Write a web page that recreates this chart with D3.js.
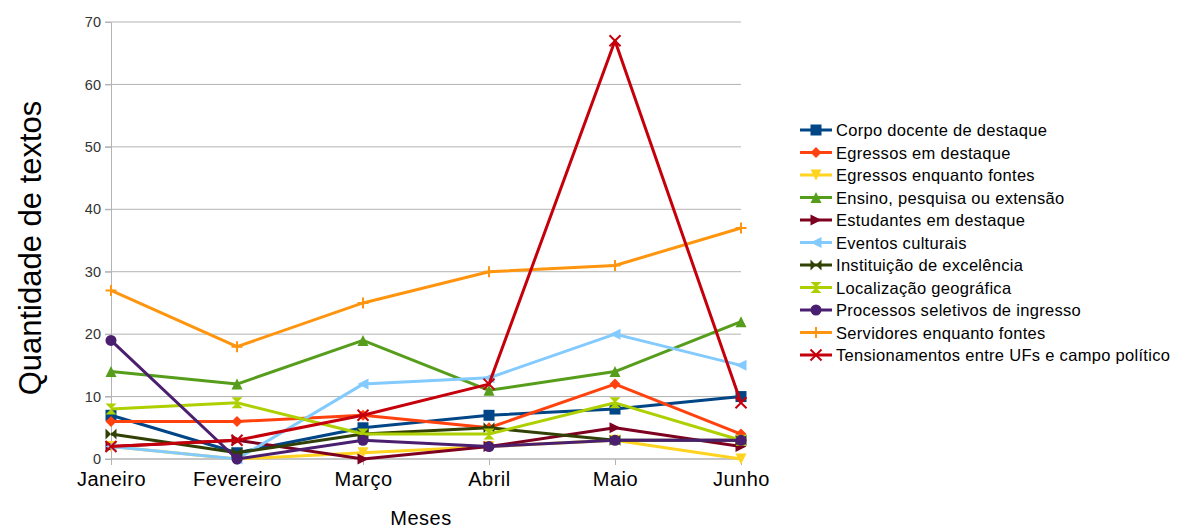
<!DOCTYPE html>
<html>
<head>
<meta charset="utf-8">
<script src="https://cdn.jsdelivr.net/npm/d3@7"></script>
<style>
  body { margin: 0; background: #fff; }
  text { font-family: "Liberation Sans", Arial, sans-serif; }
</style>
</head>
<body>
<div id="chart"></div>
<script>
// months on the x axis
const meses = ['Janeiro', 'Fevereiro', 'Março', 'Abril', 'Maio', 'Junho'];
const yTicks = [0, 10, 20, 30, 40, 50, 60, 70];

const seriesNames = [
    'Corpo docente de destaque',
    'Egressos em destaque',
    'Egressos enquanto fontes',
    'Ensino, pesquisa ou extensão',
    'Estudantes em destaque',
    'Eventos culturais',
    'Instituição de excelência',
    'Localização geográfica',
    'Processos seletivos de ingresso',
    'Servidores enquanto fontes',
    'Tensionamentos entre UFs e campo político'
];

const corpoDocente   = [7, 1, 5, 7, 8, 10];
const egressosDest   = [6, 6, 7, 5, 12, 4];
const egressosFontes = [2, 0, 1, 2, 3, 0];
const ensino         = [14, 12, 19, 11, 14, 22];
const estudantes     = [2, 3, 0, 2, 5, 2];
const eventos        = [2, 0, 12, 13, 20, 15];
const instituicao    = [4, 1, 4, 5, 3, 3];
const localizacao    = [8, 9, 4, 4, 9, 3];
const processos      = [19, 0, 3, 2, 3, 3];
const servidores     = [27, 18, 25, 30, 31, 37];
const tensionamentos = [2, 3, 7, 12, 67, 9];

const allValues = [corpoDocente, egressosDest, egressosFontes, ensino, estudantes,
    eventos, instituicao, localizacao, processos, servidores, tensionamentos];

const colors = ['#004586', '#ff420e', '#ffd320', '#579d1c', '#7e0021', '#83caff',
    '#314004', '#aecf00', '#4b1f6f', '#ff950e', '#c5000b'];
const symbols = ['square', 'diamond', 'down', 'up', 'right', 'left',
    'hbowtie', 'vbowtie', 'circle', 'plus', 'cross'];

const WIDTH = 1178, HEIGHT = 530;

let svg = d3.select('#chart').append('svg')
    .attr('width', WIDTH)
    .attr('height', HEIGHT);

let x = d3.scalePoint()
    .domain(meses)
    .range([111, 741]);

let y = d3.scaleLinear()
    .domain([0, 70])
    .range([459, 22]);

// gridlines
svg.append('g')
    .selectAll('line')
    .data(yTicks)
    .join('line')
    .attr('x1', 105)
    .attr('x2', 741)
    .attr('y1', d => y(d))
    .attr('y2', d => y(d))
    .attr('stroke', '#b3b3b3')
    .attr('stroke-width', 1);

// y axis
let yAxis = svg.append('g')
    .attr('transform', 'translate(111,0)')
    .call(d3.axisLeft(y).tickValues(yTicks).tickSize(6).tickPadding(4));
yAxis.select('.domain').attr('stroke', '#b3b3b3');
yAxis.selectAll('.tick line').attr('stroke', '#b3b3b3');
yAxis.selectAll('.tick text')
    .attr('fill', '#333')
    .style('font-size', '14.5px')
    .style('font-family', '"Liberation Sans", Arial, sans-serif');

// x axis
let xAxis = svg.append('g')
    .attr('transform', 'translate(0,459)')
    .call(d3.axisBottom(x).tickSize(6).tickPadding(7));
xAxis.select('.domain').attr('stroke', '#b3b3b3').attr('d', 'M111,0H741');
xAxis.selectAll('.tick line').attr('stroke', '#b3b3b3');
xAxis.selectAll('.tick text')
    .attr('fill', '#000')
    .style('font-size', '20px')
    .style('letter-spacing', '0.5px')
    .style('font-family', '"Liberation Sans", Arial, sans-serif');

// axis titles
svg.append('text')
    .attr('transform', 'translate(41,248) rotate(-90)')
    .attr('text-anchor', 'middle')
    .style('font-size', '31px')
    .text('Quantidade de textos');

svg.append('text')
    .attr('x', 421)
    .attr('y', 525)
    .attr('text-anchor', 'middle')
    .style('font-size', '20px')
    .style('letter-spacing', '0.5px')
    .text('Meses');

function markerPath(sym, s) {
    let h = s / 2;
    switch (sym) {
        case 'square': return `M${-h},${-h}H${h}V${h}H${-h}Z`;
        case 'diamond': return `M0,${-h}L${h},0L0,${h}L${-h},0Z`;
        case 'down': return `M${-h},${-h}H${h}L0,${h}Z`;
        case 'up': return `M${-h},${h}H${h}L0,${-h}Z`;
        case 'right': return `M${-h},${-h}L${h},0L${-h},${h}Z`;
        case 'left': return `M${h},${-h}L${-h},0L${h},${h}Z`;
        case 'hbowtie': return `M${-h},${-h}L${h},${h}V${-h}L${-h},${h}Z`;
        case 'vbowtie': return `M${-h},${-h}H${h}L${-h},${h}H${h}Z`;
        case 'circle': return d3.symbol(d3.symbolCircle, Math.PI * h * h)();
        default: return null;
    }
}

function drawMarker(g, sym, color, cx, cy) {
    let s = 11;
    if (sym === 'plus') {
        g.append('path')
            .attr('d', `M${cx - 5.5},${cy}H${cx + 5.5}M${cx},${cy - 5.5}V${cy + 5.5}`)
            .attr('stroke', color).attr('stroke-width', 2).attr('fill', 'none');
    } else if (sym === 'cross') {
        g.append('path')
            .attr('d', `M${cx - 5.5},${cy - 5.5}L${cx + 5.5},${cy + 5.5}M${cx + 5.5},${cy - 5.5}L${cx - 5.5},${cy + 5.5}`)
            .attr('stroke', color).attr('stroke-width', 2).attr('fill', 'none');
    } else {
        g.append('path')
            .attr('d', markerPath(sym, s))
            .attr('transform', `translate(${cx},${cy})`)
            .attr('fill', color);
    }
}

let line = d3.line()
    .x((d, i) => x(meses[i]))
    .y(d => y(d));

// series, in legend order so the last one is on top
allValues.forEach((vals, k) => {
    let g = svg.append('g').attr('class', 'series');
    g.append('path')
        .attr('d', line(vals))
        .attr('fill', 'none')
        .attr('stroke', colors[k])
        .attr('stroke-width', 3)
        .attr('stroke-linejoin', 'round');
    vals.forEach((v, i) => drawMarker(g, symbols[k], colors[k], x(meses[i]), y(v)));
});

// legend
let legend = svg.append('g');
seriesNames.forEach((name, k) => {
    let ly = 130 + k * 22.5;
    let g = legend.append('g');
    g.append('line')
        .attr('x1', 800).attr('x2', 832)
        .attr('y1', ly).attr('y2', ly)
        .attr('stroke', colors[k])
        .attr('stroke-width', 3);
    drawMarker(g, symbols[k], colors[k], 816, ly);
    g.append('text')
        .attr('x', 836)
        .attr('y', ly + 6)
        .style('font-size', '16.5px')
        .style('letter-spacing', '0.3px')
        .text(name);
});
</script>
</body>
</html>
